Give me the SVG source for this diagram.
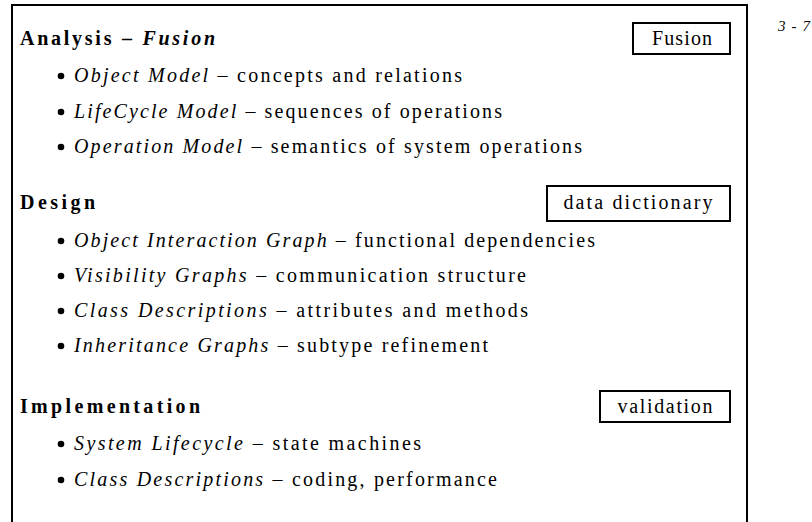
<svg xmlns="http://www.w3.org/2000/svg" width="812" height="522" viewBox="0 0 812 522">
<style>
text{font-family:"Liberation Serif","DejaVu Serif",serif;fill:#000}
.h{font-size:20px;font-weight:bold}
.t{font-size:20px}
.i{font-style:italic}
.lbl{font-size:20px;text-anchor:middle}
.box{fill:#fff;stroke:#000;stroke-width:2}
.frame{fill:none;stroke:#000;stroke-width:2}
.dot{fill:#000}
</style>
<rect width="812" height="522" fill="#fff"/>
<path class="frame" d="M12 530 V5 H747 V530"/>
<text x="778" y="31" class="i" textLength="32" lengthAdjust="spacing" style="font-size:15px">3-7</text>

<g id="analysis">
<text x="20" y="45" class="h" textLength="195" lengthAdjust="spacing">Analysis – <tspan class="i">Fusion</tspan></text>
<circle class="dot" cx="61" cy="76" r="3.3"/>
<text x="74" y="82" class="t" textLength="388" lengthAdjust="spacing"><tspan class="i">Object Model</tspan> – concepts and relations</text>
<circle class="dot" cx="61" cy="112" r="3.3"/>
<text x="74" y="118" class="t" textLength="428" lengthAdjust="spacing"><tspan class="i">LifeCycle Model</tspan> – sequences of operations</text>
<circle class="dot" cx="61" cy="147" r="3.3"/>
<text x="74" y="153" class="t" textLength="508" lengthAdjust="spacing"><tspan class="i">Operation Model</tspan> – semantics of system operations</text>
</g>

<g id="fusion-box">
<rect class="box" x="633" y="23" width="97" height="31"/>
<text x="682" y="45" class="lbl" textLength="60" lengthAdjust="spacing">Fusion</text>
</g>

<g id="design">
<text x="20" y="209" class="h" textLength="75" lengthAdjust="spacing">Design</text>
<circle class="dot" cx="61" cy="241" r="3.3"/>
<text x="74" y="247" class="t" textLength="521" lengthAdjust="spacing"><tspan class="i">Object Interaction Graph</tspan> – functional dependencies</text>
<circle class="dot" cx="61" cy="276" r="3.3"/>
<text x="74" y="282" class="t" textLength="452" lengthAdjust="spacing"><tspan class="i">Visibility Graphs</tspan> – communication structure</text>
<circle class="dot" cx="61" cy="311" r="3.3"/>
<text x="74" y="317" class="t" textLength="454" lengthAdjust="spacing"><tspan class="i">Class Descriptions</tspan> – attributes and methods</text>
<circle class="dot" cx="61" cy="346" r="3.3"/>
<text x="74" y="352" class="t" textLength="414" lengthAdjust="spacing"><tspan class="i">Inheritance Graphs</tspan> – subtype refinement</text>
</g>

<g id="data-dictionary-box">
<rect class="box" x="547" y="186" width="183" height="35"/>
<text x="638" y="209" class="lbl" textLength="149" lengthAdjust="spacing">data dictionary</text>
</g>

<g id="implementation">
<text x="20" y="413" class="h" textLength="180" lengthAdjust="spacing">Implementation</text>
<circle class="dot" cx="61" cy="444" r="3.3"/>
<text x="74" y="450" class="t" textLength="347" lengthAdjust="spacing"><tspan class="i">System Lifecycle</tspan> – state machines</text>
<circle class="dot" cx="61" cy="480" r="3.3"/>
<text x="74" y="486" class="t" textLength="423" lengthAdjust="spacing"><tspan class="i">Class Descriptions</tspan> – coding, performance</text>
</g>

<g id="validation-box">
<rect class="box" x="600" y="391" width="130" height="31"/>
<text x="665" y="413" class="lbl" textLength="95" lengthAdjust="spacing">validation</text>
</g>

<g id="connectors"></g>
</svg>
